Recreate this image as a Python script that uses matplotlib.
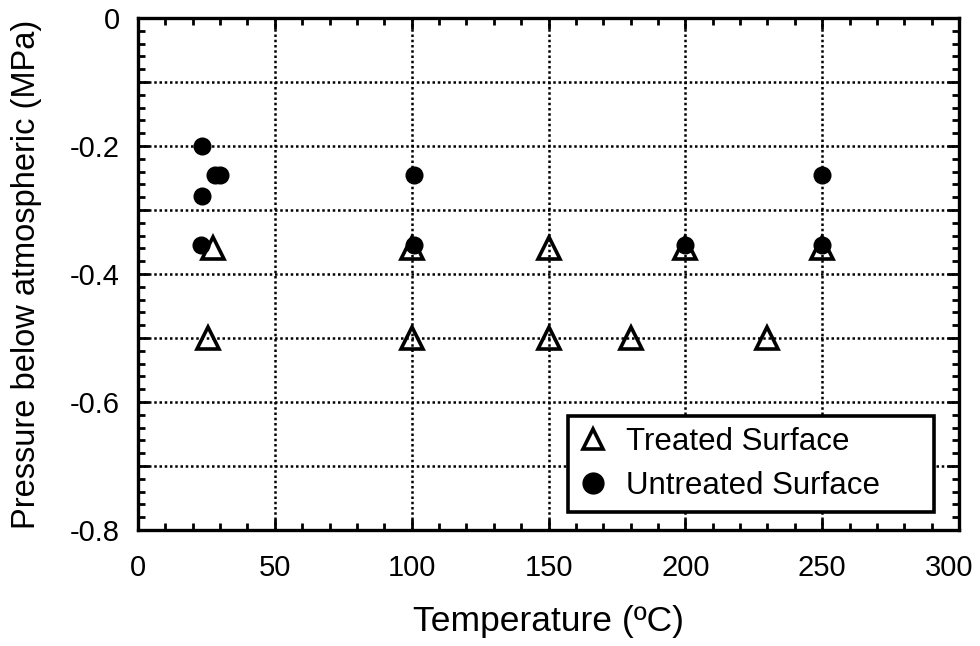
import matplotlib.pyplot as plt
import matplotlib.transforms as mtransforms
from matplotlib.ticker import MultipleLocator, FuncFormatter

plt.rcParams['font.family'] = ['Liberation Sans', 'DejaVu Sans']

# mesures : surface traitée (triangles) et non traitée (cercles)
temp_traite = [25.5, 27.5, 100, 150, 200, 250, 100, 150, 180, 230]
pression_traite = [-0.50, -0.36, -0.36, -0.36, -0.36, -0.36, -0.50, -0.50, -0.50, -0.50]

temp_non_traite = [23.5, 28, 30, 23.5, 23, 101, 101, 200, 250, 250]
pression_non_traite = [-0.20, -0.245, -0.245, -0.278, -0.355, -0.245, -0.355, -0.355, -0.245, -0.355]

x_ticks = [0, 50, 100, 150, 200, 250, 300]


def formater_y(v, pos):
    """Étiquette seulement tous les 0.2."""
    k = int(round(v * 10))
    if k % 2:
        return ''
    if k == 0:
        return '0'
    return '-%.1f' % abs(v)


fig = plt.figure(figsize=(9.8, 6.46), dpi=100)
ax = fig.add_axes([0.1408, 0.1796, 0.8378, 0.7925])

ax.plot(temp_non_traite, pression_non_traite, 'o', color='black', ms=12,
        label='Untreated Surface', zorder=3)
ax.plot(temp_traite, pression_traite, '^', mfc='none', mec='black', mew=2.6,
        ms=16, label='Treated Surface', zorder=4)

ax.set_xlim(0, 300)
ax.set_ylim(-0.8, 0)
ax.set_xticks(x_ticks)
ax.xaxis.set_minor_locator(MultipleLocator(10))
ax.yaxis.set_major_locator(MultipleLocator(0.1))
ax.yaxis.set_minor_locator(MultipleLocator(0.02))
ax.yaxis.set_major_formatter(FuncFormatter(formater_y))

ax.grid(True, which='major', color='black', linestyle=(0, (1, 1.1)), linewidth=1.8)
ax.tick_params(which='both', direction='in', top=True, right=True, color='black')
ax.tick_params(which='major', length=8, width=2, labelsize=21)
ax.tick_params(which='minor', length=5, width=2)
ax.tick_params(axis='x', which='major', pad=17)
ax.tick_params(axis='y', which='major', pad=13)
for s in ax.spines.values():
    s.set_linewidth(2.4)

# décaler le dernier libellé pour qu'il reste dans la figure
dernier = ax.get_xticklabels()[-1]
dernier.set_transform(dernier.get_transform() +
                      mtransforms.ScaledTranslation(-10 / 100, 0, fig.dpi_scale_trans))

ax.set_xlabel('Temperature (ºC)', fontsize=25.5, labelpad=17)
ax.set_ylabel('Pressure below atmospheric (MPa)', fontsize=23.5)
ax.yaxis.set_label_coords(-0.117, 0.5)

h, l = ax.get_legend_handles_labels()
leg = ax.legend(h[::-1], l[::-1], loc='lower left',
                bbox_to_anchor=(0.524, 0.035, 0.445, 0.18), mode='expand',
                fontsize=22.5, frameon=True, fancybox=False, framealpha=1,
                handlelength=0.9, handletextpad=0.6, borderpad=0.35,
                labelspacing=0.45, borderaxespad=0)
leg.get_frame().set_edgecolor('black')
leg.get_frame().set_linewidth(2.6)
leg.set_zorder(5)
for hd in leg.legend_handles:
    hd.set_markersize(15)

fig.savefig('out.png', dpi=100)
